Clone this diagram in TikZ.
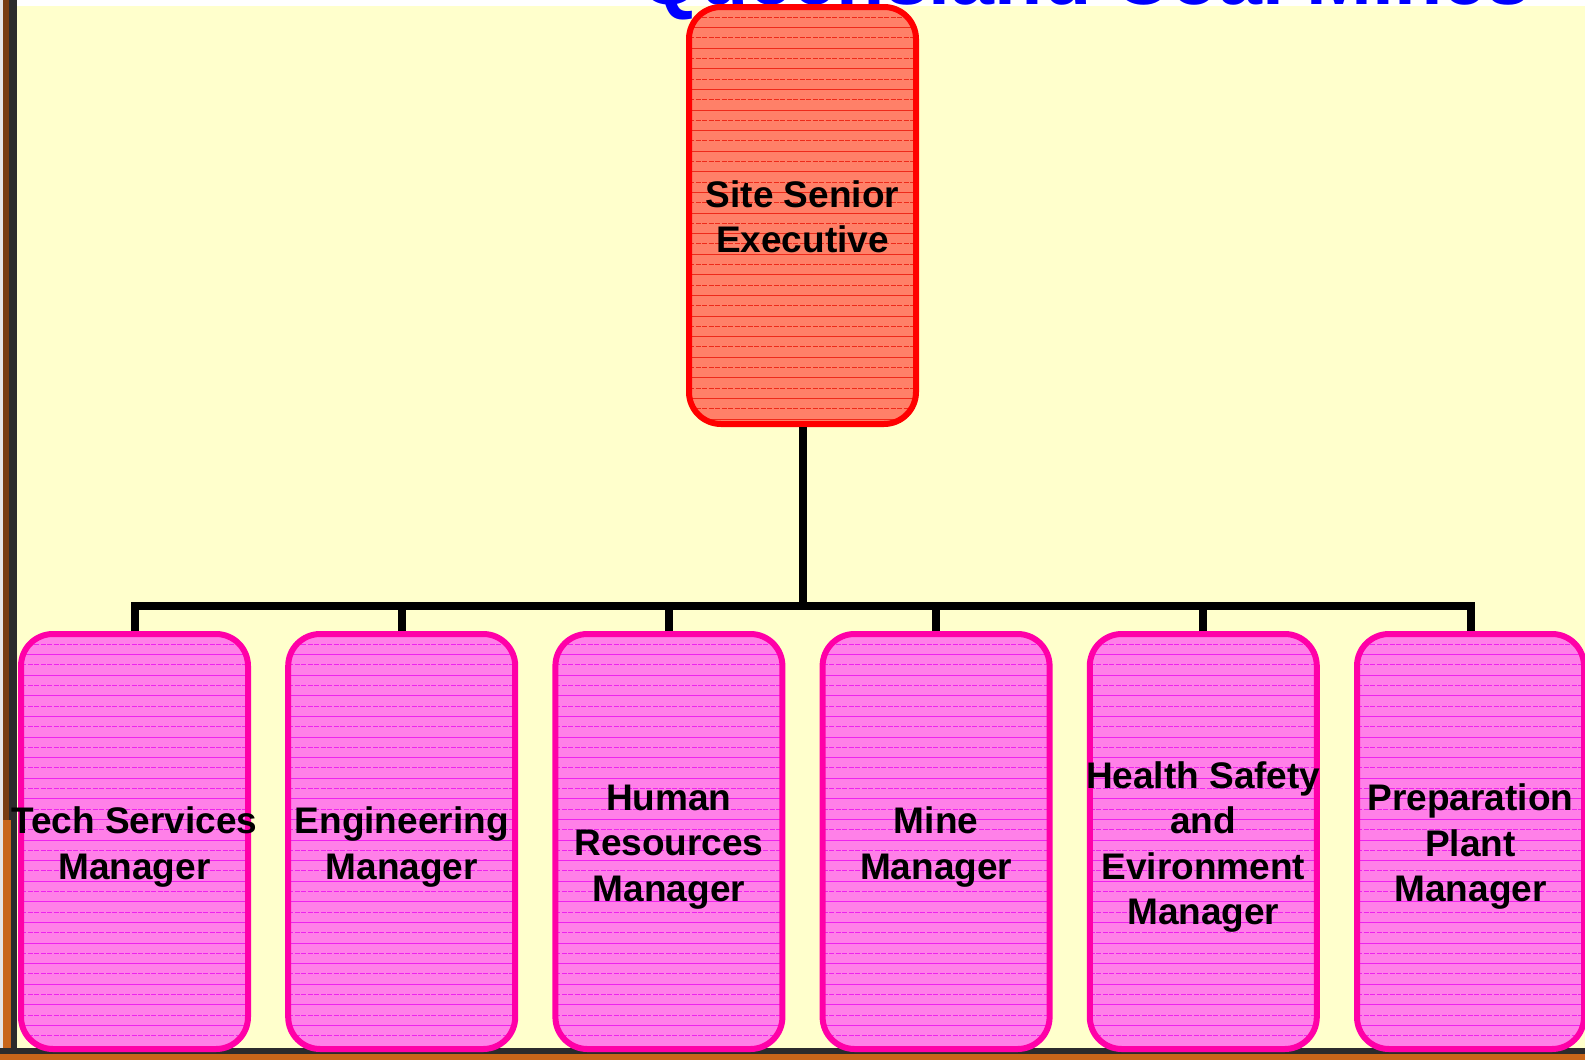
\documentclass[tikz,border=0pt]{standalone}
\usepackage{fontspec}
\setmainfont{Liberation Sans}
\definecolor{bgyellow}{HTML}{FFFFCC}
\definecolor{pinkfill}{HTML}{FF80E8}
\definecolor{pinkline}{HTML}{EE22EE}
\definecolor{pinkborder}{HTML}{FF00A8}
\definecolor{redfill}{HTML}{FF8068}
\definecolor{redline}{HTML}{EE2A1A}
\definecolor{redborder}{HTML}{FF0000}
\definecolor{framedark}{HTML}{2C2C2C}
\definecolor{frameorange}{HTML}{C8661A}
\definecolor{titleblue}{HTML}{0000FF}
\newcommand{\hatchlines}[1]{%
  \foreach \k in {1,3,...,41}{\draw[#1, line width=0.9pt, dash pattern=on 5pt off 1.5pt] ([yshift=-\k*10.3pt]path picture bounding box.north west) -- ([yshift=-\k*10.3pt]path picture bounding box.north east);}
  \foreach \k in {2,4,...,42}{\draw[#1, line width=0.9pt] ([yshift=-\k*10.3pt]path picture bounding box.north west) -- ([yshift=-\k*10.3pt]path picture bounding box.north east);}
}
\begin{document}
\begin{tikzpicture}[x=1pt,y=-1pt,
  boxbase/.style={rectangle, rounded corners=32pt, minimum width=227pt, line width=6pt, inner sep=0pt},
  pinkbox/.style={boxbase, minimum height=415pt, draw=pinkborder, fill=pinkfill, path picture={\hatchlines{pinkline}}},
  redbox/.style={boxbase, minimum height=417pt, draw=redborder, fill=redfill, path picture={\hatchlines{redline}}},
  boxtext/.style={align=center, inner sep=0pt, text=black, font=\fontsize{37pt}{45.5pt}\selectfont\bfseries},
  connector/.style={draw=black, line width=8pt},
  titlestyle/.style={anchor=base west, inner sep=0pt, text=titleblue, font=\fontsize{79pt}{79pt}\selectfont\bfseries}
]
\useasboundingbox (0,0) rectangle (1585,1060);
% background and frame
\fill[white] (0,0) rectangle (1585,1060);
\fill[bgyellow] (16,6) rectangle (1585,1048);
\fill[framedark] (0,0) rectangle (17,1060);
\fill[white!80!gray] (0,0) rectangle (3,1060);
\fill[frameorange!60!black] (3,0) rectangle (9,820);
\fill[frameorange] (3,820) rectangle (11,1060);
\fill[framedark] (0,1048) rectangle (1585,1054);
\fill[frameorange] (0,1054) rectangle (1585,1060);
% cut-off title
\node[titlestyle] (title) at (639,5) {Queensland Coal Mines};
% top box
\node[redbox] (top) at (802.5,215.5) {};
\node[boxtext] (toptext) at (802.5,217) {Site Senior\\Executive};
% bus coordinate
\coordinate (bus) at (802.5,606);
% bottom boxes
\foreach \i/\txt in {1/{Tech Services\\Manager},2/{Engineering\\Manager},3/{Human\\Resources\\Manager},4/{Mine\\Manager},5/{Health Safety\\and\\Evironment\\Manager},6/{Preparation\\Plant\\Manager}}{
  \node[pinkbox] (b\i) at ({134.5+267.2*(\i-1)},841.5) {};
  \node[boxtext] (t\i) at ({134.5+267.2*(\i-1)},847) {\txt};
}
% connectors
\draw[connector] (top.south) -- (bus);
\draw[connector] (b1.north) |- (bus);
\draw[connector] (b6.north) |- (bus);
\draw[connector] (b2.north) -- (b2.north |- bus);
\draw[connector] (b3.north) -- (b3.north |- bus);
\draw[connector] (b4.north) -- (b4.north |- bus);
\draw[connector] (b5.north) -- (b5.north |- bus);
\end{tikzpicture}
\end{document}
